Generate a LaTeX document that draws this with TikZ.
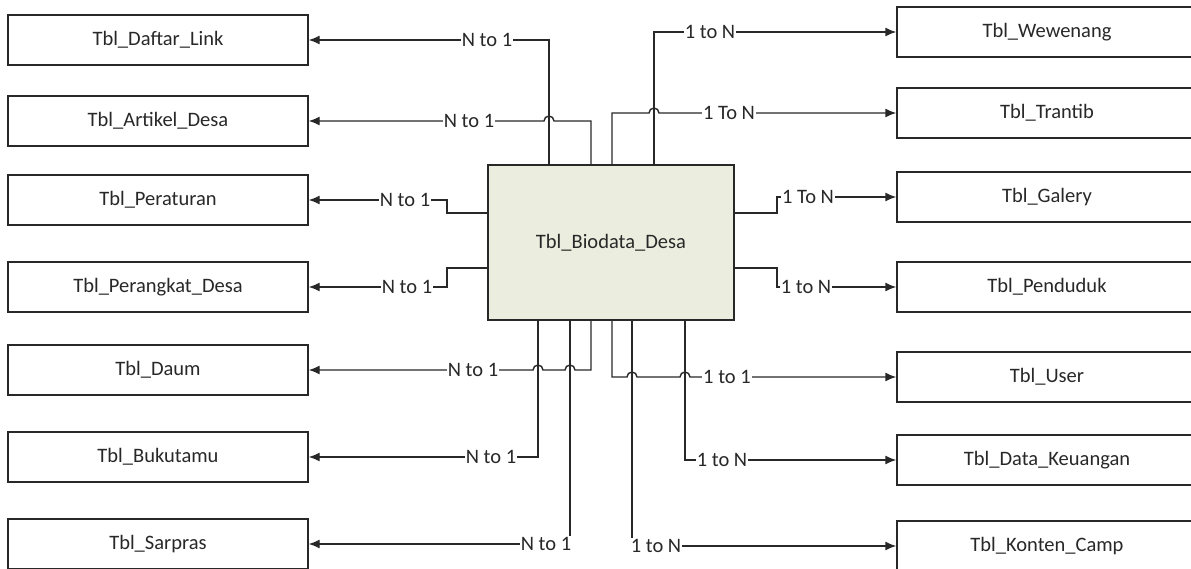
\documentclass[tikz,border=0pt]{standalone}
\usepackage{fontspec}
\setmainfont{Carlito}
\usetikzlibrary{arrows.meta}
\definecolor{ln}{RGB}{40,40,40}
\definecolor{biofill}{RGB}{235,238,222}
\tikzset{
  tbox/.style={draw=ln, line width=1.4pt, minimum width=300pt, minimum height=50pt, inner sep=0pt, text=ln, font=\fontsize{20.5}{24}\selectfont},
  conn/.style={draw=ln, line width=1.4pt},
  arr/.style={conn, -{Latex[length=11pt,width=9pt]}},
  lbl/.style={fill=white, inner sep=1pt, text=ln, font=\fontsize{20.5}{24}\selectfont},
}
\begin{document}
\begin{tikzpicture}[x=1pt,y=-1pt]
\useasboundingbox (0,0) rectangle (1191,569);
\clip (0,0) rectangle (1191,569);
\fill[white] (0,0) rectangle (1191,569);
% center
\node[tbox, fill=biofill, minimum width=246pt, minimum height=155pt] (bio) at (611,242.5) {Tbl\_Biodata\_Desa};
% left boxes
\node[tbox] (dl) at (158,40) {Tbl\_Daftar\_Link};
\node[tbox] (ad) at (158,121) {Tbl\_Artikel\_Desa};
\node[tbox] (pr) at (158,200) {Tbl\_Peraturan};
\node[tbox] (pd) at (158,287) {Tbl\_Perangkat\_Desa};
\node[tbox] (dm) at (158,370) {Tbl\_Daum};
\node[tbox] (bt) at (158,457) {Tbl\_Bukutamu};
\node[tbox] (sp) at (158,544) {Tbl\_Sarpras};
% right boxes (run past the right edge)
\node[tbox] (ww) at (1047,32) {Tbl\_Wewenang};
\node[tbox] (tr) at (1047,113) {Tbl\_Trantib};
\node[tbox] (gl) at (1047,197) {Tbl\_Galery};
\node[tbox] (pn) at (1047,287) {Tbl\_Penduduk};
\node[tbox] (us) at (1047,377) {Tbl\_User};
\node[tbox] (dk) at (1047,460) {Tbl\_Data\_Keuangan};
\node[tbox] (kc) at (1047,546) {Tbl\_Konten\_Camp};
% top connectors
\draw[arr] (bio.north -| 549,0) -- (549,40) -- (dl.east);
\draw[arr] (bio.north -| 591,0) -- (591,121) -- (554,121) arc[start angle=0,end angle=180,radius=5pt] -- (ad.east);
\draw[arr] (bio.north -| 612,0) -- (612,113) -- (649,113) arc[start angle=180,end angle=0,radius=5pt] -- (tr.west);
\draw[arr] (bio.north -| 654,0) -- (654,32) -- (ww.west);
% left side
\draw[arr] (bio.west |- 0,213) -- (447,213) -- (447,200) -- (pr.east);
\draw[arr] (bio.west |- 0,268) -- (447,268) -- (447,287) -- (pd.east);
% right side
\draw[arr] (bio.east |- 0,213) -- (777,213) -- (777,197) -- (gl.west);
\draw[arr] (bio.east |- 0,268) -- (777,268) -- (777,287) -- (pn.west);
% bottom connectors
\draw[arr] (bio.south -| 591,0) -- (591,370) -- (575,370) arc[start angle=0,end angle=180,radius=5pt] -- (543,370) arc[start angle=0,end angle=180,radius=5pt] -- (dm.east);
\draw[arr] (bio.south -| 538,0) -- (538,457) -- (bt.east);
\draw[conn] (bio.south -| 570,0) -- (570,544);
\draw[arr] (546,544) -- (sp.east);
\draw[arr] (bio.south -| 612,0) -- (612,377) -- (627,377) arc[start angle=180,end angle=0,radius=5pt] -- (680,377) arc[start angle=180,end angle=0,radius=5pt] -- (us.west);
\draw[arr] (bio.south -| 685,0) -- (685,460) -- (dk.west);
\draw[conn] (bio.south -| 632,0) -- (632,546);
\draw[arr] (656,546) -- (kc.west);
% labels
\node[lbl] (l1) at (487,40) {N to 1};
\node[lbl] (l2) at (469,121) {N to 1};
\node[lbl] (l3) at (710,32) {1 to N};
\node[lbl] (l4) at (729,113) {1 To N};
\node[lbl] (l5) at (405,200) {N to 1};
\node[lbl] (l6) at (407,287) {N to 1};
\node[lbl] (l7) at (808,197) {1 To N};
\node[lbl] (l8) at (806,287) {1 to N};
\node[lbl] (l9) at (473,370) {N to 1};
\node[lbl] (l10) at (491,457) {N to 1};
\node[lbl] (l11) at (546,544) {N to 1};
\node[lbl] (l12) at (727,377) {1 to 1};
\node[lbl] (l13) at (722,460) {1 to N};
\node[lbl] (l14) at (656,546) {1 to N};
\end{tikzpicture}
\end{document}
